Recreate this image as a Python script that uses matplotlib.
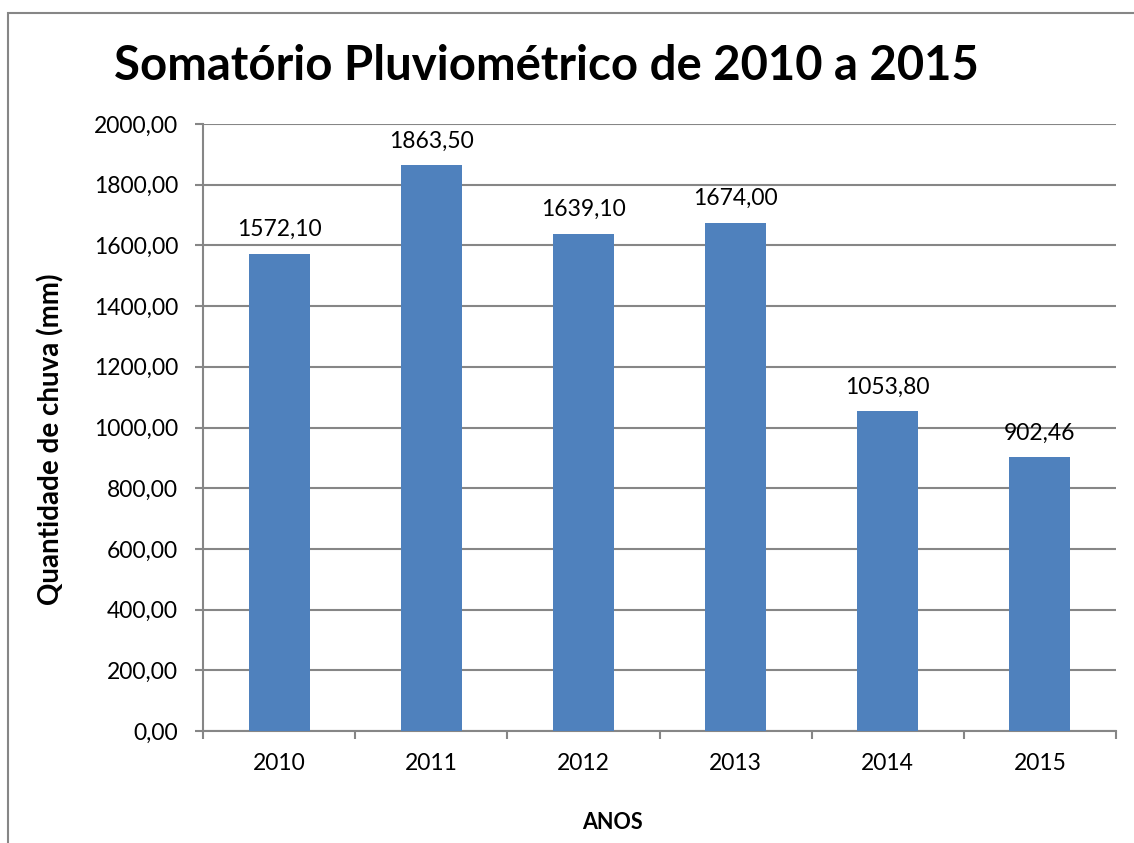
import numpy as np
import matplotlib
matplotlib.use("Agg")
import matplotlib.pyplot as plt
from matplotlib.patches import Rectangle

anos = ["2010", "2011", "2012", "2013", "2014", "2015"]
chuva = [1572.10, 1863.50, 1639.10, 1674.00, 1053.80, 902.46]
rotulos = ["1572,10", "1863,50", "1639,10", "1674,00", "1053,80", "902,46"]
yticks = [0, 200, 400, 600, 800, 1000, 1200, 1400, 1600, 1800, 2000]

plt.rcParams['font.family'] = ['Lato', 'DejaVu Sans']

fig = plt.figure(figsize=(11.34, 8.43), dpi=100)
ax = fig.add_axes([203/1134, 1 - 731/843, 913/1134, 607/843])

x = np.arange(len(anos))
ax.bar(x, chuva, width=0.4, color='#4f81bd', zorder=3)
for xi, v, r in zip(x, chuva, rotulos):
    ax.text(xi, v + 45, r, ha='center', va='bottom', fontsize=16.5, zorder=4)

ax.set_xlim(-0.5, len(anos) - 0.5)
ax.set_ylim(0, 2000)
ax.set_yticks(yticks)
ax.set_yticklabels([("%.2f" % t).replace('.', ',') for t in yticks])
ax.set_xticks(x)
ax.set_xticklabels(anos)
ax.set_xticks(np.arange(-0.5, len(anos)), minor=True)
ax.tick_params(axis='x', which='major', length=0, pad=16, labelsize=16.5)
ax.tick_params(axis='x', which='minor', length=6, width=1.5, color='#868686')
ax.tick_params(axis='y', length=6, width=1.5, color='#868686', labelsize=16.5, pad=12)

ax.grid(axis='y', color='#868686', linewidth=1.5, zorder=0)
for s in ['top', 'right']:
    ax.spines[s].set_visible(False)
for s in ['left', 'bottom']:
    ax.spines[s].set_color('#868686')
    ax.spines[s].set_linewidth(1.5)

ax.set_ylabel("Quantidade de chuva (mm)", fontsize=20, fontweight='bold')
ax.yaxis.set_label_coords(-0.152, 0.481)
ax.set_xlabel("ANOS", fontsize=15.5, fontweight='bold')
ax.xaxis.set_label_coords(0.449, -0.1334)
fig.text(0.482, 1 - 66/843, "Somatório Pluviométrico de 2010 a 2015", ha='center', va='center',
         fontsize=34, fontweight='bold')

fig.patches.append(Rectangle((8/1134, -0.1), 1.2, 1 - 13/843 + 0.1, transform=fig.transFigure,
                             fill=False, edgecolor='#868686', linewidth=1.5))

fig.savefig("out.png", dpi=100)
